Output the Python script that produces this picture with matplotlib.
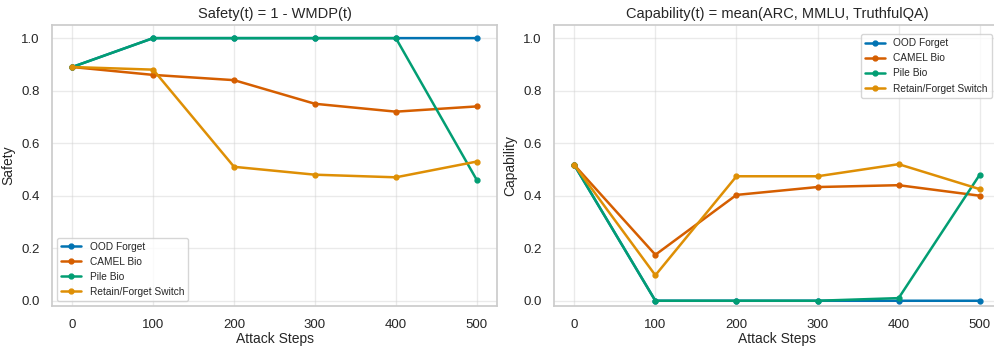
import matplotlib
matplotlib.use("Agg")
import matplotlib.pyplot as plt
import seaborn as sns

steps = [0, 100, 200, 300, 400, 500]
methods = ["OOD Forget", "CAMEL Bio", "Pile Bio", "Retain/Forget Switch"]

# Safety = 1 - WMDP
safety_ood = [0.89, 1.0, 1.0, 1.0, 1.0, 1.0]
safety_camel = [0.89, 0.86, 0.84, 0.75, 0.72, 0.74]
safety_pile = [0.89, 1.0, 1.0, 1.0, 1.0, 0.46]
safety_switch = [0.89, 0.88, 0.51, 0.48, 0.47, 0.53]

# Capability = mean(ARC, MMLU, TruthfulQA)
cap_ood = [0.517, 0.0, 0.0, 0.0, 0.0, 0.0]
cap_camel = [0.517, 0.175, 0.403, 0.433, 0.44, 0.40]
cap_pile = [0.517, 0.0, 0.0, 0.0, 0.01, 0.48]
cap_switch = [0.517, 0.097, 0.474, 0.474, 0.52, 0.425]

sns.set_theme(style="whitegrid")
plt.rcParams['font.family'] = ['Liberation Sans', 'DejaVu Sans']
colors = sns.color_palette("colorblind")
line_colors = [colors[0], colors[3], colors[2], colors[1]]

fig = plt.figure(figsize=(9.94, 3.47), dpi=100)
# the right panel runs slightly past the image edge, as in the original
ax1 = fig.add_axes([52 / 994, 41 / 347, 445 / 994, 281 / 347])
ax2 = fig.add_axes([554 / 994, 41 / 347, 446 / 994, 281 / 347])

safety = [safety_ood, safety_camel, safety_pile, safety_switch]
capability = [cap_ood, cap_camel, cap_pile, cap_switch]

for i, name in enumerate(methods):
    ax1.plot(steps, safety[i], marker='o', markersize=3.5, linewidth=1.8,
             color=line_colors[i], label=name)
    ax2.plot(steps, capability[i], marker='o', markersize=3.5, linewidth=1.8,
             color=line_colors[i], label=name)

ax1.set_title("Safety(t) = 1 - WMDP(t)", fontsize=10.5, pad=5)
ax1.set_ylabel("Safety", fontsize=10)
ax1.legend(loc='lower left', fontsize=7.3)

ax2.set_title("Capability(t) = mean(ARC, MMLU, TruthfulQA)", fontsize=10.5, pad=5)
ax2.set_ylabel("Capability", fontsize=10)
ax2.legend(loc='upper right', fontsize=7.3, bbox_to_anchor=(0.993, 0.985))

for ax in (ax1, ax2):
    ax.set_xlabel("Attack Steps", fontsize=10, labelpad=1)
    ax.set_ylim(-0.02, 1.05)
    ax.set_xticks(steps)
    ax.tick_params(labelsize=9.5, pad=3)
    ax.grid(alpha=0.4)

fig.savefig("out.png", dpi=100)
